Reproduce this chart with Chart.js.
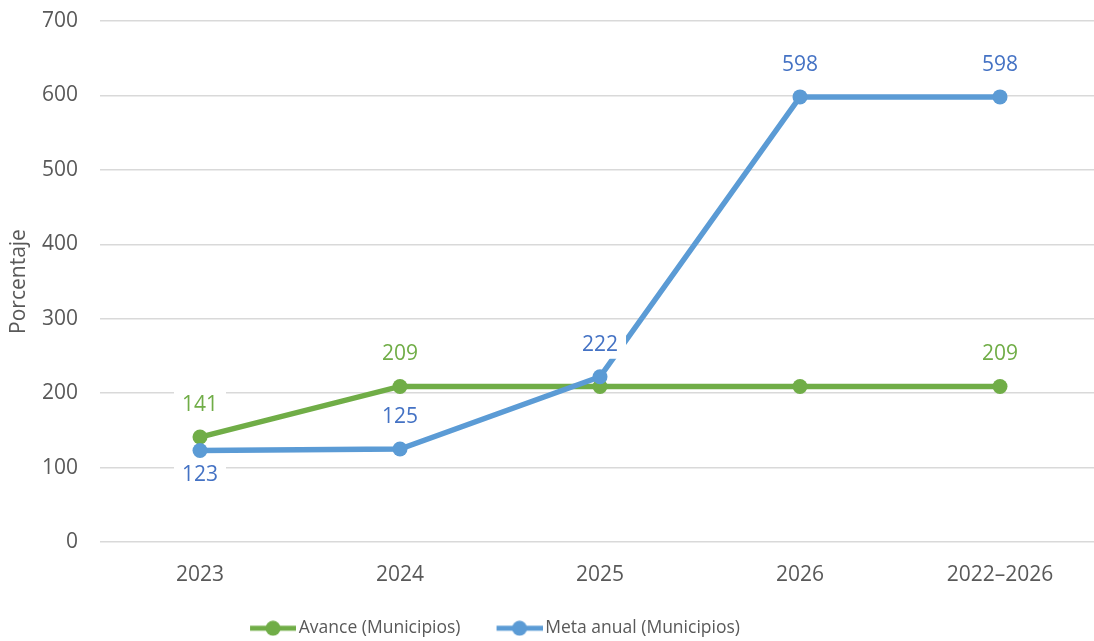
<!DOCTYPE html>
<html><head><meta charset="utf-8">
<script src="https://cdn.jsdelivr.net/npm/chart.js@4"></script>
<style>html,body{margin:0;padding:0;background:#fff}#wrap{width:1094px;height:641px;position:relative}</style>
</head><body><div id="wrap"><canvas id="c"></canvas></div>
<script>
const categories = ['2023', '2024', '2025', '2026', '2022–2026'];
const avance = [141, 209, 209, 209, 209];
const metaAnual = [123, 125, 222, 598, 598];
const avanceLabelShown = [true, true, false, false, true];
const metaLabelShown = [true, true, true, true, true];
const metaLabelBelow = [true, false, false, false, false];
const yMin = 0, yMax = 700, yStep = 100;

const FONT = '"Open Sans", "Noto Sans", sans-serif';
const TEXT = '#595959';
const GREEN = '#70AD47', BLUE = '#5B9BD5', BLUE_LABEL = '#4472C4';
const PLOT_TOP = 21, PLOT_BOTTOM = 542, PLOT_RIGHT = 1100;

// legend icon: wide transparent canvas, visible line+marker sits at its right end
function legendIcon(color) {
  const c = document.createElement('canvas');
  c.width = 78; c.height = 16;
  const g = c.getContext('2d');
  g.strokeStyle = color; g.lineWidth = 5;
  g.beginPath(); g.moveTo(32, 8); g.lineTo(78, 8); g.stroke();
  g.fillStyle = color;
  g.beginPath(); g.arc(55, 8, 7.5, 0, Math.PI * 2); g.fill();
  return c;
}

const labelPlugin = {
  id: 'vlabels',
  afterDatasetsDraw(chart) {
    const ctx = chart.ctx;
    chart.data.datasets.forEach((ds, di) => {
      const meta = chart.getDatasetMeta(di);
      meta.data.forEach((pt, i) => {
        if (!ds.labelShown[i]) return;
        const txt = String(ds.data[i]);
        ctx.save();
        ctx.font = '21px ' + FONT;
        const w = ctx.measureText(txt).width;
        const below = ds.labelBelow && ds.labelBelow[i];
        const cy = pt.y + (below ? 25 : -32);
        ctx.fillStyle = '#ffffff';
        ctx.fillRect(pt.x - w / 2 - 8, cy - 14, w + 16, 28);
        ctx.fillStyle = ds.labelColor;
        ctx.textAlign = 'center';
        ctx.textBaseline = 'middle';
        ctx.fillText(txt, pt.x, cy);
        ctx.restore();
      });
    });
  }
};

const LEGEND_SHIFT_X = -68, LEGEND_SHIFT_Y = 6;
const layoutTweak = {
  id: 'layoutTweak',
  afterLayout(chart) {
    const L = chart.legend;
    if (L) {
      L.left += LEGEND_SHIFT_X; L.right += LEGEND_SHIFT_X;
      L.top += LEGEND_SHIFT_Y; L.bottom += LEGEND_SHIFT_Y;
    }
    const xs = chart.scales.x, ys = chart.scales.y, ca = chart.chartArea;
    xs.right = PLOT_RIGHT; xs.width = xs.right - xs.left; xs.configure();
    ys.top = PLOT_TOP; ys.height = ys.bottom - ys.top; ys.configure();
    ca.right = PLOT_RIGHT; ca.top = PLOT_TOP;
    ca.width = ca.right - ca.left; ca.height = ca.bottom - ca.top;
  }
};

new Chart(document.getElementById('c'), {
  type: 'line',
  data: {
    labels: categories,
    datasets: [
      {
        label: 'Avance (Municipios)', data: avance, order: 1,
        borderColor: GREEN, backgroundColor: GREEN, pointBackgroundColor: GREEN,
        labelColor: GREEN, labelShown: avanceLabelShown, legendIcon: legendIcon(GREEN)
      },
      {
        label: 'Meta anual (Municipios)', data: metaAnual, order: 0,
        borderColor: BLUE, backgroundColor: BLUE, pointBackgroundColor: BLUE,
        labelColor: BLUE_LABEL, labelShown: metaLabelShown, labelBelow: metaLabelBelow,
        legendIcon: legendIcon(BLUE)
      }
    ]
  },
  options: {
    responsive: true, maintainAspectRatio: false, animation: false,
    layout: { autoPadding: false, padding: { top: 9, right: -6, left: 0, bottom: 0 } },
    elements: {
      line: { tension: 0, borderWidth: 5.5, fill: false },
      point: { radius: 7.5, borderWidth: 0, hoverRadius: 7.5 }
    },
    scales: {
      x: {
        offset: true,
        grid: { display: false }, border: { display: false },
        ticks: { color: TEXT, font: { family: FONT, size: 21 }, padding: 12, maxRotation: 0 },
        afterFit(s) {
          const lh = s.chart.legend ? s.chart.legend.height : 0;
          s.height = Math.max(0, s.chart.height - PLOT_BOTTOM - lh);
        }
      },
      y: {
        min: yMin, max: yMax,
        ticks: { stepSize: yStep, color: TEXT, font: { family: FONT, size: 21 }, padding: 22 },
        grid: { color: '#d9d9d9', lineWidth: 1.5, drawTicks: false },
        border: { display: false },
        title: { display: true, text: 'Porcentaje', color: TEXT, font: { family: FONT, size: 21 }, padding: { top: 6, bottom: 0 } },
        afterFit(s) { s.width = 100; }
      }
    },
    plugins: {
      tooltip: { enabled: false },
      legend: {
        position: 'bottom',
        labels: {
          color: TEXT, font: { family: FONT, size: 17.5 }, usePointStyle: true, pointStyleWidth: 66,
          padding: 10,
          generateLabels(chart) {
            const items = Chart.defaults.plugins.legend.labels.generateLabels(chart);
            items.sort((a, b) => a.datasetIndex - b.datasetIndex);
            items.forEach(it => { it.pointStyle = chart.data.datasets[it.datasetIndex].legendIcon; });
            return items;
          }
        }
      }
    }
  },
  plugins: [labelPlugin, layoutTweak]
});
</script>
</body></html>
